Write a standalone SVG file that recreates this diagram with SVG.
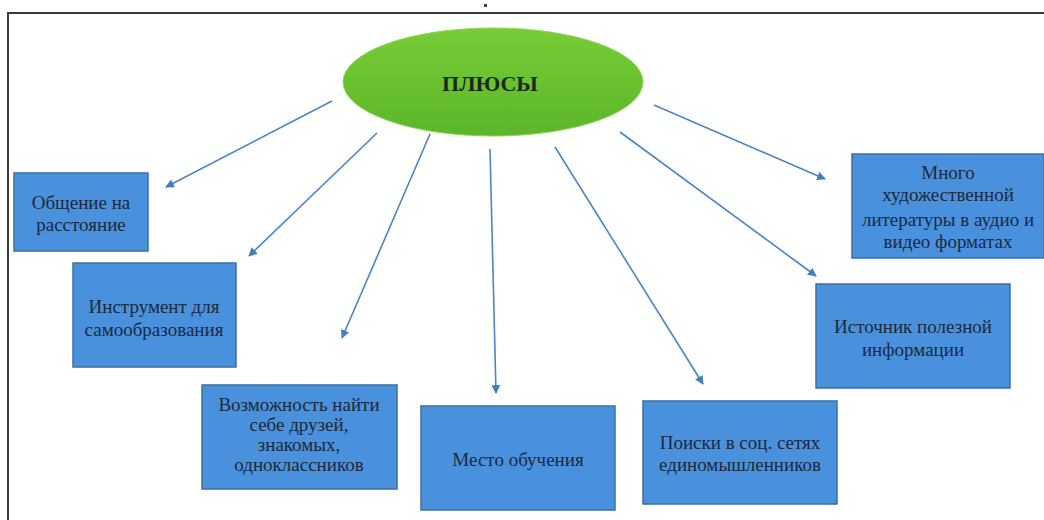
<svg xmlns="http://www.w3.org/2000/svg" width="1044" height="520" viewBox="0 0 1044 520">
<style>
.box{fill:#4a91dd;stroke:#3d6f9f;stroke-width:1.5}
.t{font-family:"Liberation Serif","Times New Roman",serif;font-size:19px;fill:#1b2a3c;text-anchor:middle}
.c{stroke:#4a86c5;stroke-width:1.6;fill:none;marker-end:url(#ah)}
</style>
<defs>
<marker id="ah" viewBox="0 0 10 10" refX="9" refY="5" markerWidth="5.5" markerHeight="5.5" orient="auto" markerUnits="strokeWidth">
<path d="M0,0 L10,5 L0,10 z" fill="#3f7fc2"/>
</marker>
<linearGradient id="g" x1="0" y1="0" x2="0" y2="1">
<stop offset="0" stop-color="#78cd36"/>
<stop offset="1" stop-color="#5cb62a"/>
</linearGradient>
</defs>
<rect x="0" y="0" width="1044" height="520" fill="#ffffff"/>
<g id="frame">
<line x1="8" y1="13" x2="1044" y2="13" stroke="#3a3a3a" stroke-width="2"/>
<line x1="8" y1="12" x2="8" y2="520" stroke="#3a3a3a" stroke-width="2"/>
<rect x="484" y="4" width="3" height="3" fill="#444"/>
</g>
<g id="connectors">
<line class="c" x1="332" y1="101" x2="166" y2="187"/>
<line class="c" x1="377" y1="133" x2="249" y2="256"/>
<line class="c" x1="430" y1="134" x2="342" y2="338"/>
<line class="c" x1="490" y1="149" x2="496" y2="393"/>
<line class="c" x1="555" y1="147" x2="703" y2="384"/>
<line class="c" x1="620" y1="132" x2="816" y2="276"/>
<line class="c" x1="654" y1="105" x2="825" y2="179"/>
</g>
<g id="center">
<ellipse cx="493" cy="82" rx="150" ry="54" fill="url(#g)" stroke="#8fd657" stroke-width="1"/>
<text x="490" y="91" font-family="'Liberation Serif','Times New Roman',serif" font-size="22" font-weight="bold" fill="#1a2a1a" text-anchor="middle">ПЛЮСЫ</text>
</g>
<g id="n1">
<rect class="box" x="14" y="173" width="134" height="78"/>
<text class="t" x="81" y="209">Общение на</text>
<text class="t" x="81" y="231">расстояние</text>
</g>
<g id="n2">
<rect class="box" x="73" y="263" width="163" height="104"/>
<text class="t" x="154" y="313">Инструмент для</text>
<text class="t" x="154" y="336">самообразования</text>
</g>
<g id="n3">
<rect class="box" x="202" y="385" width="195" height="104"/>
<text class="t" x="299" y="411">Возможность найти</text>
<text class="t" x="299" y="431">себе друзей,</text>
<text class="t" x="299" y="451">знакомых,</text>
<text class="t" x="299" y="471">одноклассников</text>
</g>
<g id="n4">
<rect class="box" x="421" y="406" width="194" height="104"/>
<text class="t" x="518" y="466">Место обучения</text>
</g>
<g id="n5">
<rect class="box" x="643" y="401" width="194" height="103"/>
<text class="t" x="740" y="449">Поиски в соц. сетях</text>
<text class="t" x="740" y="471">единомышленников</text>
</g>
<g id="n6">
<rect class="box" x="816" y="284" width="194" height="104"/>
<text class="t" x="913" y="333">Источник полезной</text>
<text class="t" x="913" y="356">информации</text>
</g>
<g id="n7">
<rect class="box" x="852" y="154" width="192" height="104"/>
<text class="t" x="948" y="179">Много</text>
<text class="t" x="948" y="201">художественной</text>
<text class="t" x="948" y="226">литературы в аудио и</text>
<text class="t" x="948" y="248">видео форматах</text>
</g>
</svg>
